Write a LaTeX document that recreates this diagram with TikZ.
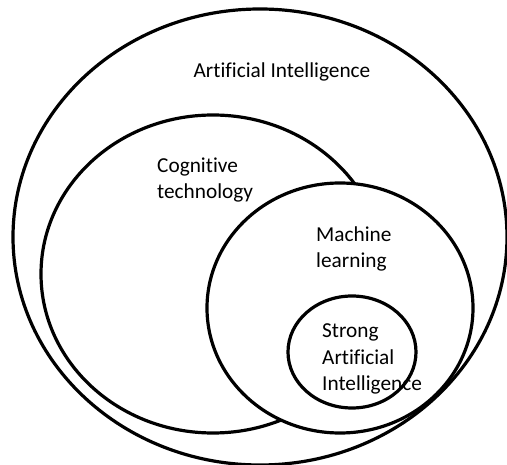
\documentclass[tikz,border=0pt]{standalone}
\usepackage{fontspec}
\setmainfont{Carlito}[RawFeature={-liga}]
\usepackage{tikz}
\tikzstyle{field} = [draw, line width=3.2pt]
\tikzstyle{lbl} = [anchor=west, align=left, inner sep=0pt, font=\fontsize{21.3}{26.5}\selectfont]

\begin{document}
\begin{tikzpicture}[x=1pt,y=-1pt]
    \useasboundingbox (0,0) rectangle (507,465);

    %sets
    \draw[field] (260,237) ellipse (247 and 228);
    \draw[field] (213,274) ellipse (172 and 159);
    \draw[field,fill=white] (340,308) ellipse (133 and 125);
    \draw[field] (352,352) ellipse (64 and 56);

    %labels
    \node[lbl,anchor=center] (ai) at (282,72) {Artificial Intelligence};
    \node[lbl] (cog) at (157,180) {Cognitive\\technology};
    \node[lbl] (ml) at (316,249) {Machine\\learning};
    \node[lbl] (strong) at (322,359) {Strong\\Artificial\\Intelligence};

\end{tikzpicture}
\end{document}
